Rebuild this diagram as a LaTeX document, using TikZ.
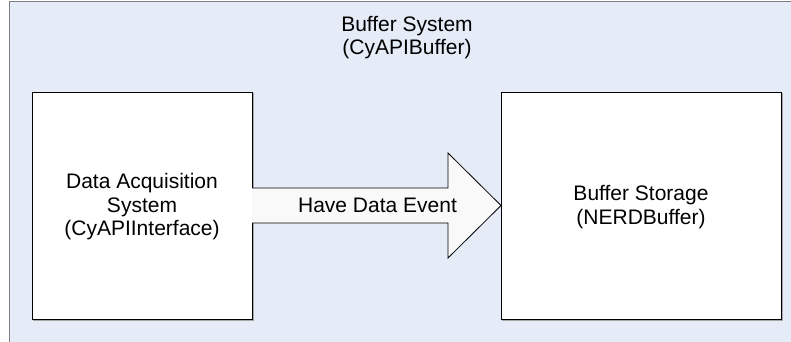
\documentclass[tikz,border=0pt]{standalone}
\usepackage{fontspec}
\setmainfont{Liberation Sans}
\usetikzlibrary{calc}
\definecolor{sysfill}{HTML}{E5ECF7}
\definecolor{sysline}{HTML}{7F7F7F}
\definecolor{arrowfill}{HTML}{F9F9F9}
\begin{document}
\begin{tikzpicture}[x=1pt,y=-1pt,
  lbl/.style={font=\fontsize{21}{23.5}\selectfont, align=center, inner sep=0pt},
  block/.style={draw=black, line width=0.9pt, fill=white},
  shade/.style={draw=black!35, line width=1.2pt}]
  \useasboundingbox (0,0) rectangle (791,341);
  % enclosing system frame, running off the right and bottom edges
  \fill[sysfill] (9.5,1.5) rectangle (795,345);
  \draw[sysline, line width=1.8pt] (9.5,345) -- (9.5,1.5) -- (795,1.5);
  \node[lbl] (sys) at (407,37.5) {Buffer System\\(CyAPIBuffer)};

  % acquisition block
  \draw[shade] (33,320.5) -- (253.5,320.5) -- (253.5,93);
  \draw[block] (32,92) rectangle (252,319);
  \node[lbl] (acq) at (142,207) {Data Acquisition\\System\\(CyAPIInterface)};

  % storage block
  \draw[shade] (502,320.5) -- (782.5,320.5) -- (782.5,93);
  \draw[block] (501,92) rectangle (781,319);
  \node[lbl] (store) at (641,207) {Buffer Storage\\(NERDBuffer)};

  % block arrow carrying the event
  \coordinate (tail) at (252,205.5);
  \coordinate (tip) at (501,205.5);
  \draw[black, line width=0.8pt, fill=arrowfill, line join=miter]
    ($(tail)+(0,-17.5)$) -- (448,188) -- (448,153) -- (tip)
    -- (448,258) -- (448,223) -- ($(tail)+(0,17.5)$);
  \node[lbl] (evt) at (377.5,205.5) {Have Data Event};
\end{tikzpicture}
\end{document}
